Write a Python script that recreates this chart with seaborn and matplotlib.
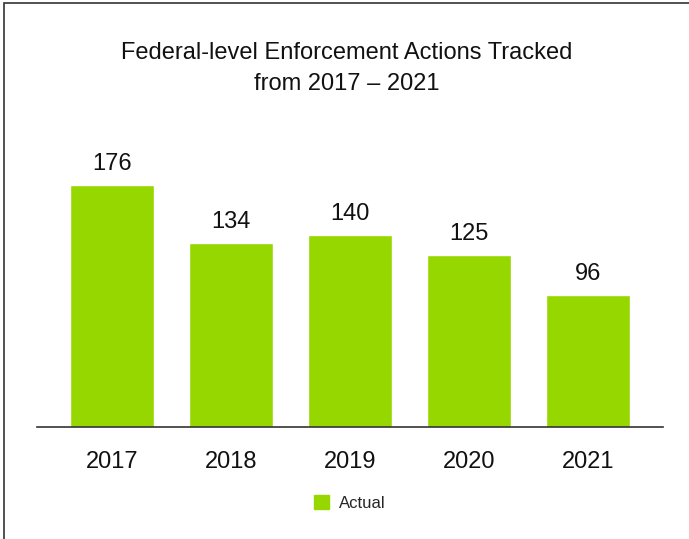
import matplotlib
matplotlib.use("Agg")
import matplotlib.pyplot as plt
import seaborn as sns
import pandas as pd
from matplotlib.patches import Rectangle, Patch

years = ["2017", "2018", "2019", "2020", "2021"]
actions = [176, 134, 140, 125, 96]
title_lines = ["Federal-level Enforcement Actions Tracked", "from 2017 – 2021"]
series_name = "Actual"

sns.set_theme(style="white")
plt.rcParams['font.family'] = ['Liberation Sans', 'DejaVu Sans']

green = "#97D700"
W, H = 689, 539
fig = plt.figure(figsize=(W / 100, H / 100), dpi=100)
ax = fig.add_axes([37 / W, (H - 427) / H, (663 - 37) / W, (427 - 150) / H])

df = pd.DataFrame({"year": years, "value": actions})
sns.barplot(data=df, x="year", y="value", color=green, saturation=1, width=0.70, ax=ax)

ax.set_ylim(0, 201.5)
ax.set_xlim(-0.63, 4.63)
for s in ["top", "right", "left"]:
    ax.spines[s].set_visible(False)
ax.spines["bottom"].set_color("#333333")
ax.spines["bottom"].set_linewidth(1.2)
ax.set_yticks([])
ax.set_xlabel("")
ax.set_ylabel("")
ax.tick_params(axis="x", length=0, pad=17, labelsize=17, colors="#111111")

for c in ax.containers:
    ax.bar_label(c, labels=[str(v) for v in actions], padding=7, fontsize=17, color="#111111")

fig.text(0.5 + 2 / W, (H - 53) / H, title_lines[0],
         ha="center", va="center", fontsize=17, color="#111111")
fig.text(0.5 + 2 / W, (H - 84) / H, title_lines[1],
         ha="center", va="center", fontsize=17, color="#111111")

fig.legend(handles=[Patch(color=green, label=series_name)], loc="center",
           bbox_to_anchor=(350 / W, (H - 503) / H), frameon=False, fontsize=12,
           handlelength=0.9, handleheight=0.9, handletextpad=0.6)

# outer frame (partially cropped)
fig.patches.append(Rectangle((4 / W, -0.05), 1.2, 1.05 - 3 / H, transform=fig.transFigure,
                             fill=False, edgecolor="#333333", linewidth=1.2))

fig.savefig("out.png", dpi=100)
